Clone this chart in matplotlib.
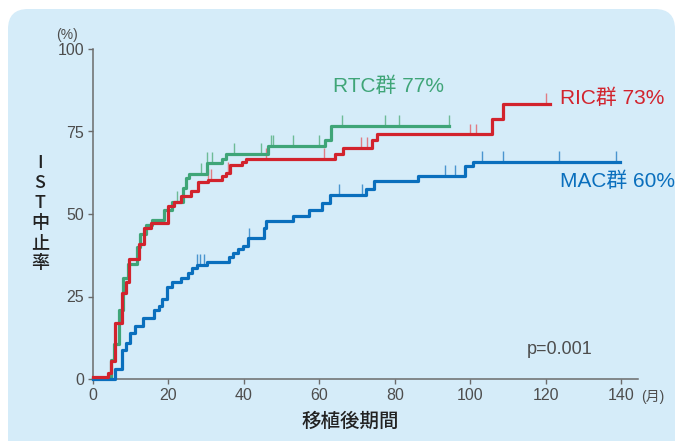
import numpy as np
import matplotlib.pyplot as plt
from matplotlib.patches import FancyBboxPatch
from matplotlib.transforms import IdentityTransform

# RIC group (red)
ric_t = [0, 4.0, 4.8, 5.9, 7.6, 8.75, 9.6, 12.3, 13.4, 15.4, 20.0, 21.4, 23.4, 25.9, 27.9, 30.6,
         34.1, 35.3, 36.3, 39.4, 40.6, 64.2, 66.4, 73.9, 75.2, 105.7, 108.8, 121.2]
ric_v = [0.7, 1.9, 5.4, 17.0, 26.0, 29.5, 36.3, 41.0, 45.9, 47.3, 52.4, 53.6, 55.5, 57.1, 59.6, 60.3,
         61.6, 62.5, 64.8, 65.7, 66.7, 68.2, 69.9, 72.4, 74.1, 78.7, 83.3, 83.3]
ric_cens = [30.6, 31.2, 35.7, 45.8, 61.3, 71.0, 72.6, 100.0, 101.5, 120.1]

# RTC group (green)
rtc_t = [0, 4.7, 5.6, 7.0, 8.0, 9.2, 11.6, 12.5, 14.1, 15.6, 18.7, 20.9, 23.9, 24.7, 25.5, 30.1,
         34.1, 35.3, 46.5, 61.5, 63.1, 94.4]
rtc_v = [0.3, 5.8, 10.6, 21.0, 30.5, 35.0, 39.9, 43.9, 46.7, 48.2, 51.2, 53.6, 58.0, 60.8, 62.1, 65.5,
         66.8, 68.2, 70.6, 72.3, 76.8, 76.8]
rtc_cens = [22.2, 28.6, 30.3, 31.5, 37.4, 44.5, 47.1, 47.8, 53.0, 60.0, 65.9, 77.4, 81.2, 94.4]

# MAC group (blue)
mac_t = [0, 5.8, 7.6, 8.75, 9.8, 11.1, 13.3, 16.2, 17.5, 18.2, 19.7, 21.0, 23.3, 25.1, 26.2, 27.5,
         30.2, 36.1, 37.2, 38.5, 39.9, 41.0, 45.4, 45.8, 53.0, 57.3, 60.8, 62.8, 72.4, 74.6, 86.3,
         98.7, 100.8, 139.8]
mac_v = [0, 2.9, 8.8, 10.8, 13.8, 16.1, 18.4, 20.9, 22.1, 24.1, 27.8, 29.5, 30.5, 32.0, 33.5, 34.5,
         35.5, 36.9, 38.1, 39.3, 40.4, 42.6, 45.9, 47.9, 49.4, 51.1, 53.2, 55.8, 57.6, 60.0, 61.6,
         64.5, 65.7, 65.7]
mac_cens = [27.6, 28.3, 29.3, 41.4, 65.1, 71.2, 93.2, 96.0, 103.1, 108.8, 123.6, 138.6]

x_ticks = [0, 20, 40, 60, 80, 100, 120, 140]
y_ticks = [0, 25, 50, 75, 100]

plt.rcParams['font.family'] = ['Liberation Sans', 'Noto Sans CJK JP']

fig = plt.figure(figsize=(6.76, 4.41), dpi=100)
fig.patch.set_facecolor('white')

# rounded light-blue panel behind everything (pixel coords)
panel = FancyBboxPatch((8, -30), 667, 462, boxstyle='round,pad=0,rounding_size=20',
                       transform=IdentityTransform(), facecolor='#d5ecf9', edgecolor='none',
                       zorder=-10)
fig.patches.append(panel)

ax = fig.add_axes([93 / 676, 1 - 379 / 441, 545 / 676, 330 / 441])
ax.set_facecolor('none')
ax.set_xlim(0, 144.5)
ax.set_ylim(0, 100)

groups = [
    (rtc_t, rtc_v, rtc_cens, '#3fa578', '#6dbb97'),
    (mac_t, mac_v, mac_cens, '#0a6fbd', '#4a95cf'),
    (ric_t, ric_v, ric_cens, '#d2232d', '#e07c84'),
]
for t, v, cens, col, lcol in groups:
    ax.step(t, v, where='post', color=col, lw=2.3, clip_on=False, zorder=3)
    idx = np.searchsorted(t, cens, side='right') - 1
    yc = np.array(v)[idx]
    ax.vlines(cens, yc, yc + 3.3, color=lcol, lw=1.0, zorder=2)

for s in ['top', 'right']:
    ax.spines[s].set_visible(False)
for s in ['left', 'bottom']:
    ax.spines[s].set_color('#6b6b6b')
    ax.spines[s].set_linewidth(1.1)

ax.set_xticks(x_ticks)
ax.set_yticks(y_ticks)
ax.tick_params(direction='out', length=3.5, width=1, color='#6b6b6b',
               labelsize=11.5, labelcolor='#4d4d4d', pad=3)

ax.text(63.6, 88.8, 'RTC群 77%', color='#3fa578', fontsize=15, va='center', ha='left')
ax.text(123.8, 85.2, 'RIC群 73%', color='#d2232d', fontsize=15, va='center', ha='left',
        clip_on=False)
ax.text(123.8, 60.0, 'MAC群 60%', color='#0a6fbd', fontsize=15, va='center', ha='left',
        clip_on=False)
ax.text(115.1, 8.8, 'p=0.001', color='#4d4d4d', fontsize=13, va='center', ha='left')

fig.text(67 / 676, 1 - 35 / 441, '(%)', fontsize=10, color='#4d4d4d', ha='center', va='center')
fig.text(653 / 676, 1 - 397 / 441, '(月)', fontsize=10, color='#4d4d4d', ha='center',
         va='center')
fig.text(350 / 676, 1 - 421 / 441, '移植後期間', fontsize=14, color='#222222', ha='center',
         va='center', family=['Noto Sans CJK JP'], weight='medium')

ylab = ['I', 'S', 'T', '中', '止', '率']
for i, ch in enumerate(ylab):
    fig.text(40 / 676, 1 - (163 + 20 * i) / 441, ch, fontsize=13, color='#222222',
             ha='center', va='center', family=['Noto Sans CJK JP'], weight='medium')

fig.savefig('out.png', dpi=100, facecolor=fig.get_facecolor())
